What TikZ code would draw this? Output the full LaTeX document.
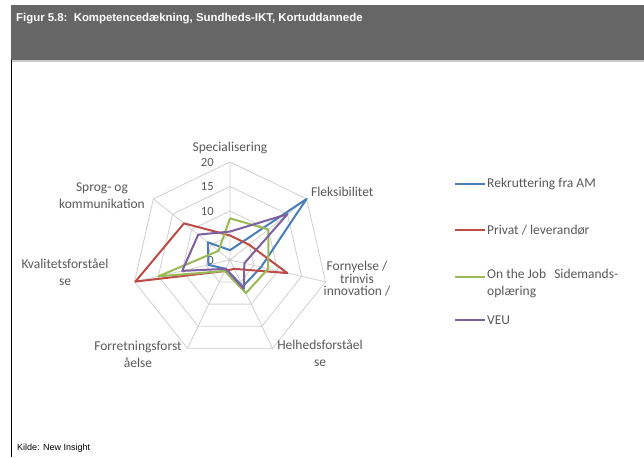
\documentclass[tikz,border=0pt]{standalone}
\usepackage{fontspec}
\setmainfont{Carlito}
\newfontfamily\arialfont{Liberation Sans}
\usepackage{xcolor}
\usetikzlibrary{positioning}
\usetikzlibrary{calc}

\definecolor{bandgray}{HTML}{666666}
\definecolor{labelgray}{HTML}{595959}
\definecolor{gridgray}{HTML}{D0D0D0}
\definecolor{serieblue}{HTML}{4A7EBB}
\definecolor{seriered}{HTML}{BE4B48}
\definecolor{seriegreen}{HTML}{98B954}
\definecolor{seriepurple}{HTML}{7D60A0}

\begin{document}
\begin{tikzpicture}[x=1pt,y=1pt,line join=round,
                    grid line/.style={draw=gridgray,line width=0.8pt},
                    axis label/.style={text=labelgray,font=\fontsize{13.5}{17}\selectfont,align=center,inner sep=0pt},
                    tick label/.style={text=labelgray,font=\fontsize{12.5}{14}\selectfont,anchor=east,inner sep=0pt},
                    legend text/.style={text=labelgray,font=\fontsize{13.5}{17}\selectfont,align=left,anchor=west,inner sep=0pt},
                    rekruttering/.style={draw=serieblue,line width=2pt},
                    privat/.style={draw=seriered,line width=2pt},
                    sidemand/.style={draw=seriegreen,line width=2pt},
                    veu/.style={draw=seriepurple,line width=2pt}]
\useasboundingbox (0,0) rectangle (644,457);
\fill[white] (0,0) rectangle (644,457);

% header band and frame
\fill[bandgray] (11,397) rectangle (644,452);
\draw[gray!40,line width=1.5pt] (12,396) -- (644,396);
\draw[black,line width=1.2pt] (11.6,0) -- (11.6,397);
\node[anchor=base west,text=white,inner sep=0pt,font=\arialfont\bfseries\fontsize{11.4}{13}\selectfont] (title) at (16,435) {Figur 5.8:\hspace{0.55em}Kompetencedækning, Sundheds-IKT, Kortuddannede};
\node[anchor=base west,inner sep=0pt,font=\arialfont\fontsize{9}{11}\selectfont] (kilde) at (17,7) {Kilde: New Insight};

% radar chart
\begin{scope}[shift={(230pt,197pt)},x=4.9pt,y=4.9pt]
\path[grid line]
  (0,0) -- (90:20)
  (0,0) -- (38.57:20)
  (0,0) -- (-12.86:20)
  (0,0) -- (-64.29:20)
  (0,0) -- (-115.71:20)
  (0,0) -- (-167.14:20)
  (0,0) -- (141.43:20);
\path[grid line] (90:5) -- (38.57:5) -- (-12.86:5) -- (-64.29:5) -- (-115.71:5) -- (-167.14:5) -- (141.43:5) -- cycle;
\path[grid line] (90:10) -- (38.57:10) -- (-12.86:10) -- (-64.29:10) -- (-115.71:10) -- (-167.14:10) -- (141.43:10) -- cycle;
\path[grid line] (90:15) -- (38.57:15) -- (-12.86:15) -- (-64.29:15) -- (-115.71:15) -- (-167.14:15) -- (141.43:15) -- cycle;
\path[grid line] (90:20) -- (38.57:20) -- (-12.86:20) -- (-64.29:20) -- (-115.71:20) -- (-167.14:20) -- (141.43:20) -- cycle;

\node[tick label] (t20) at (-3.3,20) {20};
\node[tick label] (t15) at (-3.3,15) {15};
\node[tick label] (t10) at (-3.3,10) {10};
\node[tick label] (t0) at (-3.3,0) {0};

\draw[rekruttering] (90:2) -- (38.57:20) -- (-12.86:6.5) -- (-64.29:6) -- (-115.71:2) -- (-167.14:4.5) -- (141.43:5.8) -- cycle;
\draw[privat] (90:5) -- (38.57:5) -- (-12.86:12) -- (-64.29:2) -- (-115.71:2.5) -- (-167.14:19.8) -- (141.43:12) -- cycle;
\draw[sidemand] (90:8.5) -- (38.57:10) -- (-12.86:8) -- (-64.29:7.5) -- (-115.71:2.5) -- (-167.14:15) -- (141.43:3) -- cycle;
\draw[veu] (90:5.8) -- (38.57:15) -- (-12.86:3) -- (-64.29:6.5) -- (-115.71:2) -- (-167.14:10) -- (141.43:8.3) -- cycle;
\end{scope}

% axis labels
\node[axis label] (1) at (230,309) {Specialisering};
\node[axis label,anchor=west] (2) at (311,265) {Fleksibilitet};
\node[axis label,font=\fontsize{13.5}{12.5}\selectfont] (3) at (357,178) {Fornyelse /\\trinvis\\innovation /};
\node[axis label] (4) at (320,103.5) {Helhedsforståel\\se};
\node[axis label] (5) at (138,103) {Forretningsforst\\åelse};
\node[axis label] (6) at (65,184.5) {Kvalitetsforståel\\se};
\node[axis label] (7) at (102,261) {Sprog- og\\kommunikation};

% legend
\coordinate (l1a) at (455,273);
\coordinate (l1b) at (485,273);
\coordinate (l2a) at (455,227);
\coordinate (l2b) at (485,227);
\coordinate (l3a) at (455,180);
\coordinate (l3b) at (485,180);
\coordinate (l4a) at (455,137);
\coordinate (l4b) at (485,137);
\draw[rekruttering] (l1a) -- (l1b);
\draw[privat] (l2a) -- (l2b);
\draw[sidemand] (l3a) -- (l3b);
\draw[veu] (l4a) -- (l4b);
\node[legend text,right=2pt of l1b] (8) {Rekruttering fra AM};
\node[legend text,right=2pt of l2b] (9) {Privat / leverandør};
\node[legend text,anchor=north west] (10) at ($(l3b)+(2,8.5)$) {On the Job\hspace{0.6em}Sidemands-\\oplæring};
\node[legend text,right=2pt of l4b] (11) {VEU};
\end{tikzpicture}
\end{document}
